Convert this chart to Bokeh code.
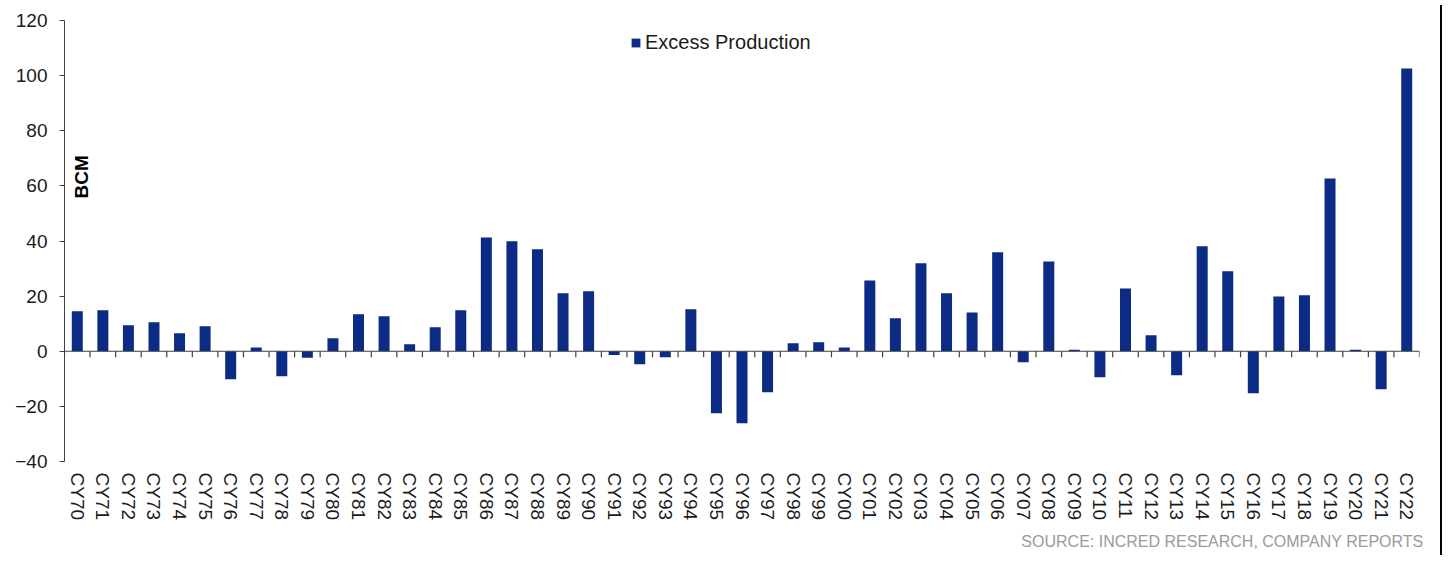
from bokeh.plotting import figure
from bokeh.models import (Range1d, LinearAxis, FixedTicker, Label, Legend, LegendItem,
                          Title, Div, Span, ColumnDataSource)
from bokeh.layouts import row
from bokeh.embed import file_html
from bokeh.resources import INLINE
import math

# Excess production by calendar year (BCM)
years = ["CY70", "CY71", "CY72", "CY73", "CY74", "CY75", "CY76", "CY77", "CY78", "CY79",
         "CY80", "CY81", "CY82", "CY83", "CY84", "CY85", "CY86", "CY87", "CY88", "CY89",
         "CY90", "CY91", "CY92", "CY93", "CY94", "CY95", "CY96", "CY97", "CY98", "CY99",
         "CY00", "CY01", "CY02", "CY03", "CY04", "CY05", "CY06", "CY07", "CY08", "CY09",
         "CY10", "CY11", "CY12", "CY13", "CY14", "CY15", "CY16", "CY17", "CY18", "CY19",
         "CY20", "CY21", "CY22"]
excess_production = [14.5, 14.9, 9.4, 10.5, 6.5, 9.1, -10.2, 1.4, -9.1, -2.4,
                     4.7, 13.4, 12.7, 2.5, 8.7, 14.9, 41.3, 39.9, 37.0, 21.0,
                     21.8, -1.4, -4.7, -2.2, 15.2, -22.5, -26.1, -14.9, 2.9, 3.3,
                     1.4, 25.7, 12.0, 31.9, 21.0, 14.1, 35.9, -4.0, 32.6, 0.5,
                     -9.4, 22.8, 5.8, -8.7, 38.1, 29.0, -15.2, 19.9, 20.3, 62.7,
                     0.5, -13.8, 102.6]
y_ticks = [-40, -20, 0, 20, 40, 60, 80, 100, 120]

FONT = "Liberation Sans"
BAR_COLOR = "#0b2b85"
AXIS_COLOR = "#404040"
TEXT_COLOR = "#1a1a1a"

n = len(years)
slot = list(range(n))
src = ColumnDataSource(dict(x=slot, year=years, value=excess_production))

PLOT_H = 561
BORDER_TOP, BORDER_BOTTOM = 20, 100
p = figure(width=1435, height=PLOT_H, output_backend="svg", toolbar_location=None,
           x_range=Range1d(-0.5, n - 0.5),
           y_range=Range1d(y_ticks[0], y_ticks[-1]),
           x_axis_location=None, y_axis_location=None,
           min_border_left=64, min_border_right=16,
           min_border_top=BORDER_TOP, min_border_bottom=BORDER_BOTTOM)
p.outline_line_color = None
p.background_fill_color = "white"
p.border_fill_color = "white"
p.xgrid.visible = False
p.ygrid.visible = False

bars = p.vbar(x="x", top="value", bottom=0, width=0.43, source=src,
              fill_color=BAR_COLOR, line_color=None)

# value axis
yax = LinearAxis(ticker=FixedTicker(ticks=y_ticks))
yax.axis_line_color = AXIS_COLOR
yax.major_tick_line_color = AXIS_COLOR
yax.major_tick_out = 5
yax.major_tick_in = 0
yax.minor_tick_line_color = None
yax.major_label_text_font = FONT
yax.major_label_text_font_size = "19px"
yax.major_label_text_color = TEXT_COLOR
yax.major_label_standoff = 12
p.add_layout(yax, "left")

# year labels along the bottom
xax = LinearAxis(ticker=FixedTicker(ticks=slot),
                 major_label_overrides={i: y for i, y in zip(slot, years)})
xax.axis_line_color = None
xax.major_tick_line_color = None
xax.minor_tick_line_color = None
xax.major_label_orientation = "vertical"
xax.major_label_text_font = FONT
xax.major_label_text_font_size = "19px"
xax.major_label_text_color = TEXT_COLOR
xax.major_label_standoff = 5
p.add_layout(xax, "below")

# zero line with short downward ticks between years
p.add_layout(Span(location=0, dimension="width", line_color=AXIS_COLOR, line_width=1.2))
tick_len = 6 * (y_ticks[-1] - y_ticks[0]) / (PLOT_H - BORDER_TOP - BORDER_BOTTOM)
edges = [i - 0.5 for i in range(n + 1)]
p.segment(x0=edges, x1=edges, y0=[0] * len(edges), y1=[-tick_len] * len(edges),
          line_color=AXIS_COLOR, line_width=1.2)

# unit label
p.add_layout(Label(x=-0.5 + 0.66, y=63.3, text="BCM", angle=math.pi / 2,
                   text_font=FONT, text_font_size="19px", text_font_style="bold",
                   text_color="#000000", text_align="center", text_baseline="middle"))

legend = Legend(items=[LegendItem(label="Excess Production", renderers=[bars])],
                location=(566, 407), orientation="horizontal",
                glyph_width=11, glyph_height=11, label_standoff=4, label_height=11,
                padding=0, margin=0, spacing=0,
                label_text_font=FONT, label_text_font_size="20px", label_text_color=TEXT_COLOR,
                label_text_baseline="middle",
                border_line_color=None, background_fill_alpha=0)
p.add_layout(legend, "center")

p.add_layout(Title(text="SOURCE: INCRED RESEARCH, COMPANY REPORTS", align="right",
                   vertical_align="top",
                   text_font=FONT, text_font_size="16px", text_font_style="normal",
                   text_color="#9a9a9a", offset=-4, standoff=19), "below")

edge = Div(width=2, height=550, styles={"background-color": "#000000"})

layout = row(p, edge, spacing=0)
open("out.html", "w").write(file_html(layout, INLINE))
